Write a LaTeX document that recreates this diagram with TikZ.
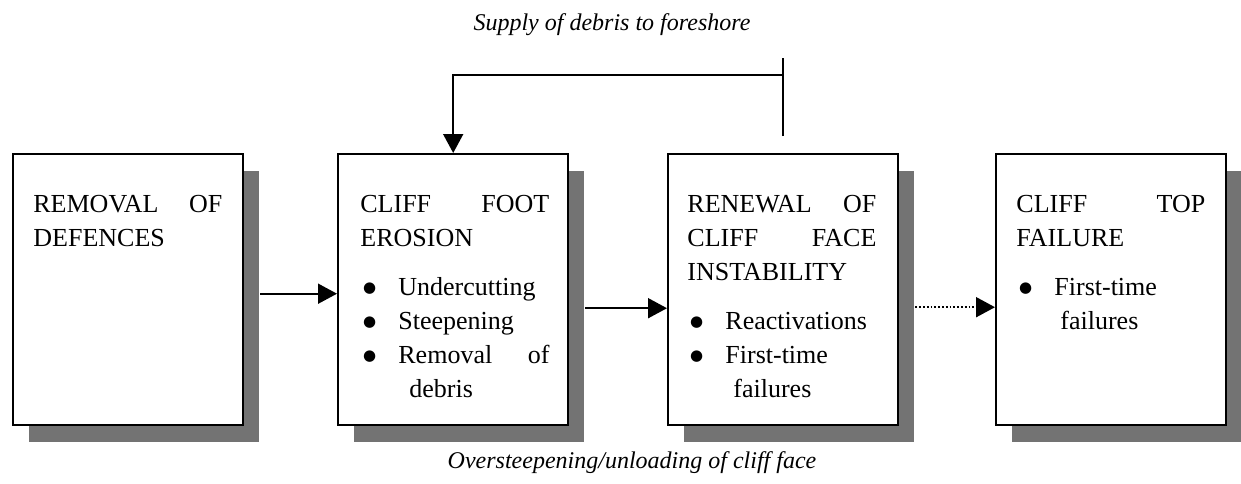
\documentclass[tikz,border=0pt]{standalone}
\usepackage{fontspec}
\setmainfont{Liberation Serif}
\newfontfamily\symfont{DejaVu Sans}
\usetikzlibrary{arrows.meta,shadows}
\begin{document}
\begin{tikzpicture}[x=0.5pt,y=-0.5pt,
	box/.style={draw,line width=1.2pt,fill=white,anchor=north west,minimum width=115pt,minimum height=135.5pt,
		drop shadow={shadow xshift=8pt,shadow yshift=-8.5pt,fill=black!55,opacity=1}},
	txt/.style={anchor=base west,inner sep=0pt,text width=94.5pt,align=left,font=\fontsize{13}{17}\selectfont},
	note/.style={anchor=base,inner sep=0pt,font=\fontsize{12}{14}\selectfont\itshape},
	link/.style={line width=0.9pt},
	flow/.style={link,-{Triangle[length=9.5pt,width=10pt]}}]
				\useasboundingbox (0,0) rectangle (1241,483);
				\newcommand{\blt}{\makebox[19pt][l]{\hspace{1.3pt}\raisebox{1.2pt}{\symfont\fontsize{7.5}{0}\selectfont ●}}}
				\node[box](removal) at (12,153){};
				\node[box](erosion) at (337,153){};
				\node[box](renewal) at (667,153){};
				\node[box](topfail) at (995,153){};
				\node[txt](removaltxt) at (33,212){REMOVAL\hfill OF\\DEFENCES};
				\node[txt](erosiontxt) at (360,212){CLIFF\hfill FOOT\\EROSION\\[7.5pt]
					\blt Undercutting\\\blt Steepening\\\blt Removal\hfill of\\\hspace*{24.5pt}debris};
				\node[txt](renewaltxt) at (687,212){RENEWAL\hfill OF\\CLIFF\hfill FACE\\INSTABILITY\\[7.5pt]
					\blt Reactivations\\\blt First-time\\\hspace*{23pt}failures};
				\node[txt](topfailtxt) at (1016,212){CLIFF\hfill TOP\\FAILURE\\[7.5pt]
					\blt First-time\\\hspace*{22pt}failures};
				\draw[flow]([shift={(16,4)}]removal.east) to ([shift={(0,4)}]erosion.west);
				\draw[flow]([shift={(16,18.5)}]erosion.east) to ([shift={(0,18.5)}]renewal.west);
				\draw[flow,densely dotted]([shift={(16,17.5)}]renewal.east) to ([shift={(0,17.5)}]topfail.west);
				\coordinate(tap) at ([yshift=8.5pt]renewal.north);
				\coordinate(bend) at (0,75);
				\draw[link](tap) to ([yshift=39pt]tap);
				\draw[flow](renewal.north |- bend) -| (erosion.north);
				\node[note](supply) at (612,30){Supply of debris to foreshore};
				\node[note](oversteep) at (632,468){Oversteepening/unloading of cliff face};
			\end{tikzpicture}
\end{document}
